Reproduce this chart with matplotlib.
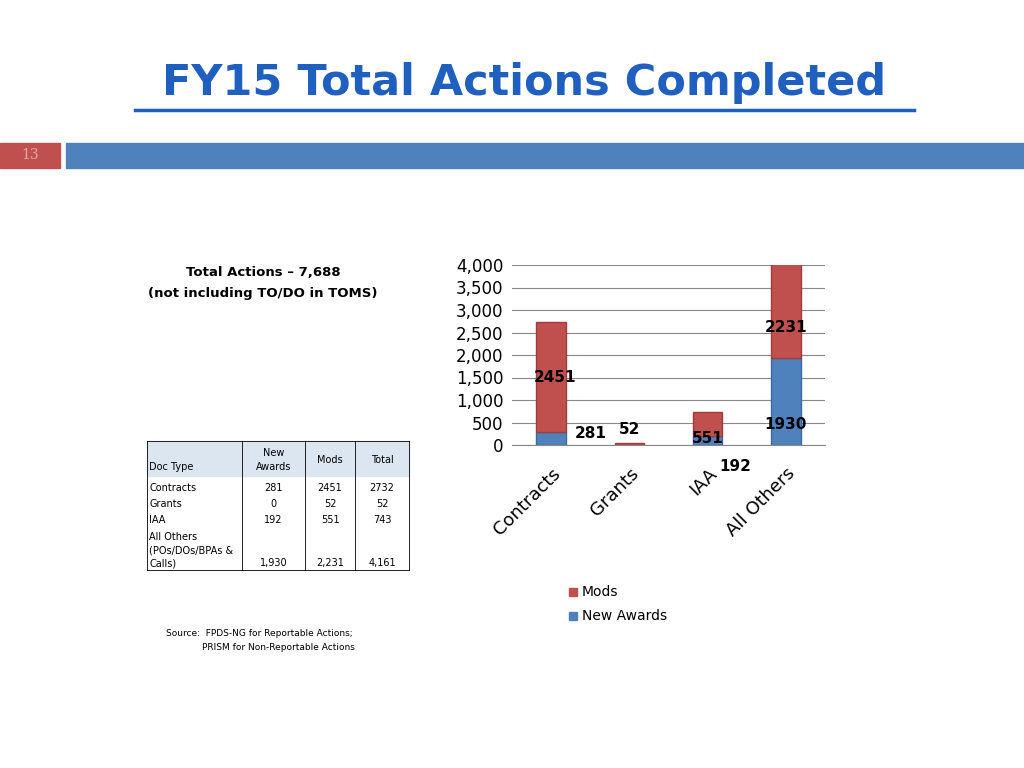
import matplotlib
matplotlib.use("Agg")
import matplotlib.pyplot as plt
from matplotlib.patches import Rectangle
import numpy as np

categories = ["Contracts", "Grants", "IAA", "All Others"]
new_awards = [281, 0, 192, 1930]
mods = [2451, 52, 551, 2231]
yticks = [0, 500, 1000, 1500, 2000, 2500, 3000, 3500, 4000]
table_header = ["Doc Type", "New\nAwards", "Mods", "Total"]
table_rows = [["Contracts", "281", "2451", "2732"],
              ["Grants", "0", "52", "52"],
              ["IAA", "192", "551", "743"],
              ["All Others\n(POs/DOs/BPAs &\nCalls)", "1,930", "2,231", "4,161"]]

W, H = 1024, 768
fig = plt.figure(figsize=(10.24, 7.68), dpi=100)
fig.patch.set_facecolor("white")

def fx(x): return x / W
def fy(y): return 1 - y / H

# title
fig.text(fx(524), fy(83), "FY15 Total Actions Completed", color="#1F5FBF", fontsize=31,
         fontweight="bold", ha="center", va="center", family="DejaVu Sans")
fig.add_artist(plt.Line2D([fx(135), fx(914)], [fy(110), fy(110)], color="#1F5FBF", lw=2.5))
# band
fig.add_artist(Rectangle((fx(66), fy(168)), fx(1024 - 66), 25 / H, color="#4F81BD", transform=fig.transFigure))
fig.add_artist(Rectangle((0, fy(168)), fx(60), 25 / H, color="#C0504D", transform=fig.transFigure))
fig.text(fx(30), fy(155), "13", color="#E6A8A0", fontsize=10, ha="center", va="center", family="serif")

# notes
fig.text(fx(263), fy(272), "Total Actions – 7,688", fontsize=9.5, fontweight="bold", ha="center", va="center")
fig.text(fx(263), fy(293), "(not including TO/DO in TOMS)", fontsize=9.5, fontweight="bold", ha="center", va="center")
fig.text(fx(166), fy(634), "Source:  FPDS-NG for Reportable Actions;", fontsize=6.5, ha="left", va="center")
fig.text(fx(202), fy(647), "PRISM for Non-Reportable Actions", fontsize=6.5, ha="left", va="center")

# table
col_x = [147, 242, 305, 355, 409]
fig.add_artist(Rectangle((fx(147), fy(476)), fx(409 - 147), 35 / H, color="#DCE6F1", transform=fig.transFigure))
for x in col_x:
    fig.add_artist(plt.Line2D([fx(x), fx(x)], [fy(441), fy(570)], color="black", lw=0.6))
for y in [441, 570]:
    fig.add_artist(plt.Line2D([fx(147), fx(409)], [fy(y), fy(y)], color="black", lw=0.6))
for i, h in enumerate(table_header):
    if i == 0:
        fig.text(fx(149), fy(467), h, fontsize=7, ha="left", va="center")
    else:
        fig.text(fx((col_x[i] + col_x[i + 1]) / 2), fy(460), h, fontsize=7, ha="center", va="center", linespacing=1.6)
ry = [488, 504, 520, 563]
for r, y in zip(table_rows, ry):
    if "\n" in r[0]:
        fig.text(fx(149), fy(y + 6), r[0], fontsize=7, ha="left", va="bottom", linespacing=1.45)
    else:
        fig.text(fx(149), fy(y), r[0], fontsize=7, ha="left", va="center")
    for j in range(1, 4):
        fig.text(fx((col_x[j] + col_x[j + 1]) / 2), fy(y), r[j], fontsize=7, ha="center", va="center")

# chart
ax = fig.add_axes([fx(512), fy(445), fx(825 - 512), (445 - 265) / H])
x = np.arange(len(categories))
blue, red = "#4F81BD", "#C0504D"
ax.bar(x, new_awards, width=0.38, color=blue, edgecolor="#3A6BA5")
ax.bar(x, mods, width=0.38, bottom=new_awards, color=red, edgecolor="#A33B38")
ax.set_ylim(0, 4000)
ax.set_xlim(-0.5, 3.5)
ax.set_yticks(yticks)
ax.set_yticklabels([f"{v:,}" for v in yticks], fontsize=12)
ax.yaxis.grid(True, color="#888888", lw=0.8)
ax.set_axisbelow(True)
for s in ["top", "right", "left"]:
    ax.spines[s].set_visible(False)
ax.spines["bottom"].set_color("#888888")
ax.tick_params(axis="y", length=0, pad=6)
ax.set_xticks(x)
ax.set_xticklabels(categories, rotation=45, ha="right", rotation_mode="anchor", fontsize=13)
ax.tick_params(axis="x", length=0, pad=14)
lab = dict(fontsize=11, fontweight="bold", color="black", ha="center", va="center")
ax.text(0.05, 1500, "2451", **lab)
ax.text(0.5, 250, "281", **lab)
ax.text(1.0, 350, "52", **lab)
ax.text(2.0, 150, "551", **lab)
ax.text(2.35, -480, "192", **lab)
ax.text(3.0, 450, "1930", **lab)
ax.text(3.0, 2600, "2231", **lab)

# legend
fig.add_artist(Rectangle((fx(569), fy(596)), 8 / W, 8 / H, color=red, transform=fig.transFigure))
fig.text(fx(582), fy(592), "Mods", fontsize=10, va="center")
fig.add_artist(Rectangle((fx(569), fy(620)), 8 / W, 8 / H, color=blue, transform=fig.transFigure))
fig.text(fx(582), fy(616), "New Awards", fontsize=10, va="center")

fig.savefig("out.png", dpi=100)
